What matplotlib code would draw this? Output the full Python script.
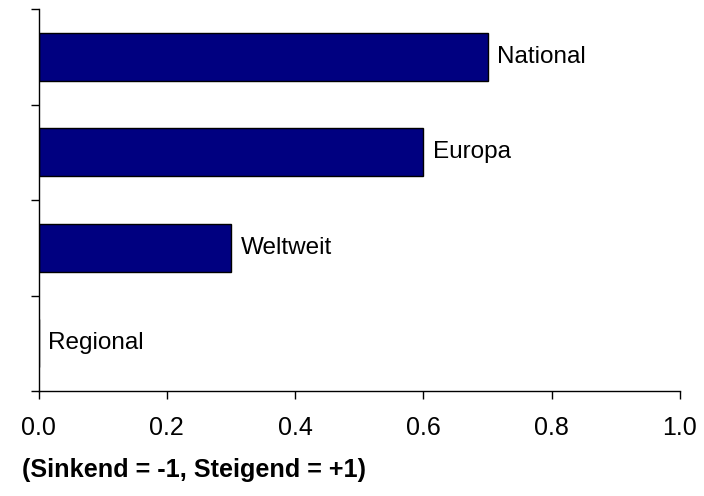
import numpy as np
import matplotlib.pyplot as plt

plt.rcParams['font.family'] = ['Liberation Sans', 'DejaVu Sans']

# Data (bottom to top)
categories = ["Regional", "Weltweit", "Europa", "National"]
values = [0.0, 0.3, 0.6, 0.7]
xticks = [0.0, 0.2, 0.4, 0.6, 0.8, 1.0]

fig = plt.figure(figsize=(7.04, 4.96), dpi=100)
ax = fig.add_axes([38.5 / 704, 1 - 391 / 496, (680 - 38.5) / 704, (391 - 9) / 496])

y = np.arange(len(categories))
ax.barh(y, values, height=0.5, color="#000080", edgecolor="black", linewidth=1)

for yi, v, name in zip(y, values, categories):
    ax.annotate(name, (v, yi), xytext=(7, 0), textcoords="offset points",
                va="center", ha="left", fontsize=17.5)

ax.set_xlim(0, 1.0)
ax.set_ylim(-0.5, len(categories) - 0.5)
ax.set_xticks(xticks)
ax.set_xticklabels([f"{t:.1f}" for t in xticks], fontsize=18)
ax.set_yticks(np.arange(-0.5, len(categories), 1.0))
ax.set_yticklabels([])
ax.tick_params(axis="both", direction="out", length=6, width=1, color="black")
ax.tick_params(axis="x", pad=12)

for s in ["top", "right"]:
    ax.spines[s].set_visible(False)
for s in ["left", "bottom"]:
    ax.spines[s].set_linewidth(1)

fig.text(22 / 704, 1 - 470 / 496, "(Sinkend = -1, Steigend = +1)",
         fontsize=18.2, fontweight="bold", va="center", ha="left")

fig.savefig("out.png", dpi=100)
